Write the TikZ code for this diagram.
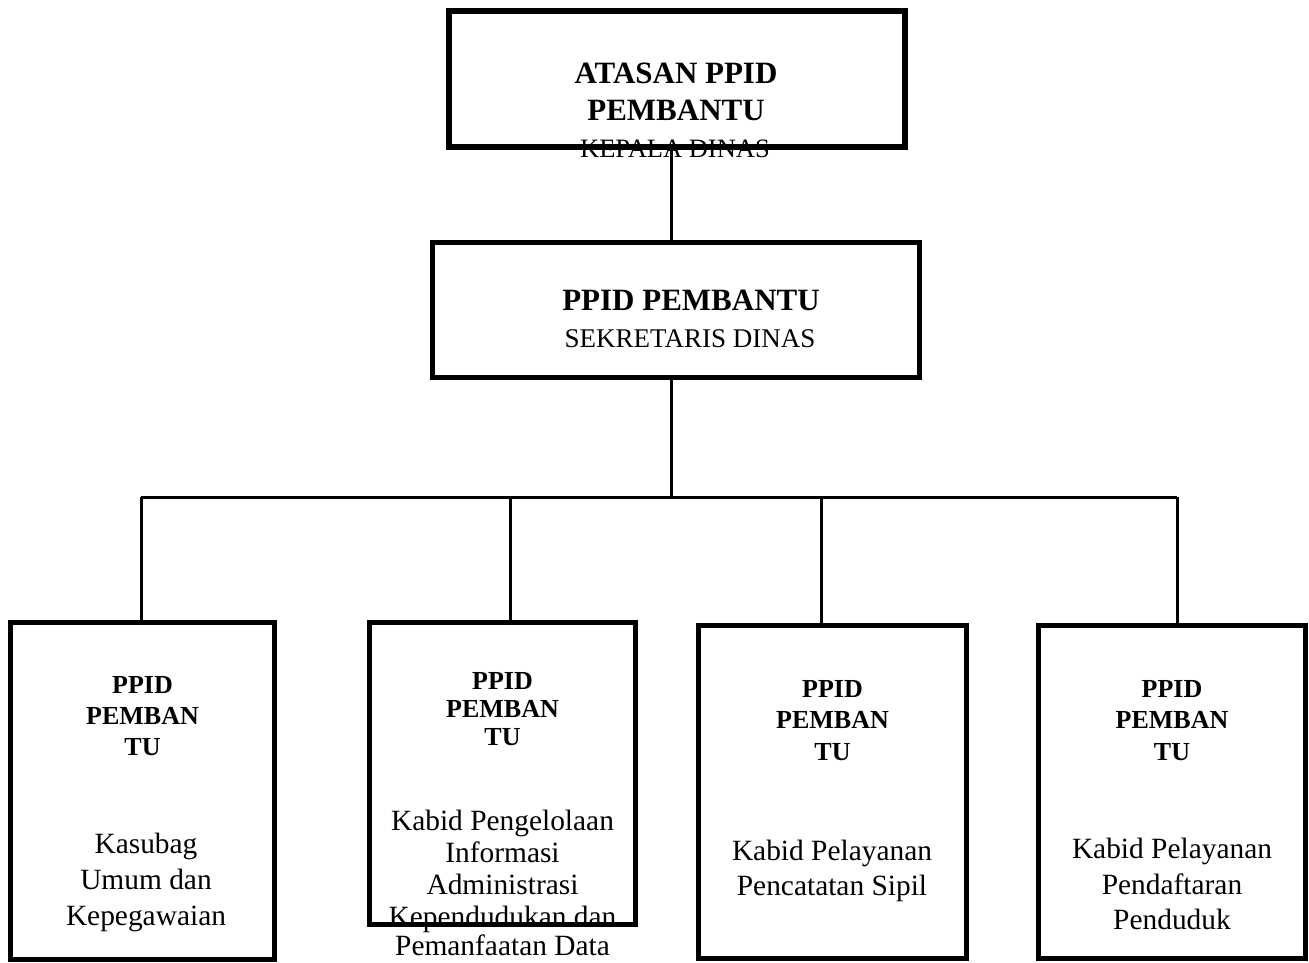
\documentclass[tikz,border=0pt]{standalone}
\usepackage{fontspec}
\setmainfont{Liberation Serif}
\begin{document}
\begin{tikzpicture}[x=1pt,y=-1pt,
  box/.style={draw, line width=5.5pt, inner sep=0pt, outer sep=0pt},
  conn/.style={line width=3pt},
  bigbold/.style={font=\fontsize{31}{37}\selectfont\bfseries, anchor=base, inner sep=0pt},
  subcap/.style={font=\fontsize{26.5}{32}\selectfont, anchor=base, inner sep=0pt},
  smallbold/.style={font=\fontsize{26}{31}\selectfont\bfseries, anchor=base, inner sep=0pt},
  reg/.style={font=\fontsize{29.4}{36}\selectfont, anchor=base, inner sep=0pt}]
\useasboundingbox (0,0) rectangle (1309,962);

% ---- texts ----
\node[bigbold] (a1) at (676,83) {ATASAN PPID};
\node[bigbold] (a2) at (676,120) {PEMBANTU};
\node[subcap] (a3) at (675,157) {KEPALA DINAS};

\node[bigbold] (m1) at (691,310) {PPID PEMBANTU};
\node[subcap, font=\fontsize{27}{32}\selectfont] (m2) at (690,347) {SEKRETARIS DINAS};

\node[smallbold] (p1a) at (142.5,693) {PPID};
\node[smallbold] (p1b) at (142.5,724) {PEMBAN};
\node[smallbold] (p1c) at (142.5,755) {TU};
\node[reg] (r1a) at (146,853) {Kasubag};
\node[reg] (r1b) at (146,889) {Umum dan};
\node[reg] (r1c) at (146,925) {Kepegawaian};

\node[smallbold] (p2a) at (502.5,689) {PPID};
\node[smallbold] (p2b) at (502.5,717) {PEMBAN};
\node[smallbold] (p2c) at (502.5,745) {TU};
\node[reg] (r2a) at (502.5,830) {Kabid Pengelolaan};
\node[reg] (r2b) at (502.5,862) {Informasi};
\node[reg] (r2c) at (502.5,894) {Administrasi};
\node[reg] (r2d) at (502.5,926) {Kependudukan dan};
\node[reg] (r2e) at (502.5,955) {Pemanfaatan Data};

\node[smallbold] (p3a) at (832.5,697) {PPID};
\node[smallbold] (p3b) at (832.5,728) {PEMBAN};
\node[smallbold] (p3c) at (832.5,760) {TU};
\node[reg] (r3a) at (832,860) {Kabid Pelayanan};
\node[reg] (r3b) at (832,895) {Pencatatan Sipil};

\node[smallbold] (p4a) at (1172,697) {PPID};
\node[smallbold] (p4b) at (1172,728) {PEMBAN};
\node[smallbold] (p4c) at (1172,760) {TU};
\node[reg] (r4a) at (1172,858) {Kabid Pelayanan};
\node[reg] (r4b) at (1172,894) {Pendaftaran};
\node[reg] (r4c) at (1172,929) {Penduduk};

% ---- boxes ----
\node[box, minimum width=456pt, minimum height=136pt] (top) at (677,79) {};
\node[box, minimum width=487pt, minimum height=135pt] (mid) at (676,310) {};
\node[box, minimum width=264pt, minimum height=337pt] (b1) at (142.5,791) {};
\node[box, minimum width=266pt, minimum height=302pt] (b2) at (502.5,773.5) {};
\node[box, minimum width=268pt, minimum height=333pt] (b3) at (832.5,792) {};
\node[box, minimum width=267pt, minimum height=333pt] (b4) at (1172,792) {};

% ---- connectors ----
\coordinate (j0) at (671,497);
\coordinate (j1) at (141,497);
\coordinate (j2) at (510,497);
\coordinate (j3) at (821,497);
\coordinate (j4) at (1177,497);
\draw[conn] (top.south -| j0) -- (mid.north -| j0);
\draw[conn] (mid.south -| j0) -- (j0);
\draw[conn] (j1) -- (j4);
\draw[conn] (j1) -- (b1.north -| j1);
\draw[conn] (j2) -- (b2.north -| j2);
\draw[conn] (j3) -- (b3.north -| j3);
\draw[conn] (j4) -- (b4.north -| j4);
\end{tikzpicture}
\end{document}
